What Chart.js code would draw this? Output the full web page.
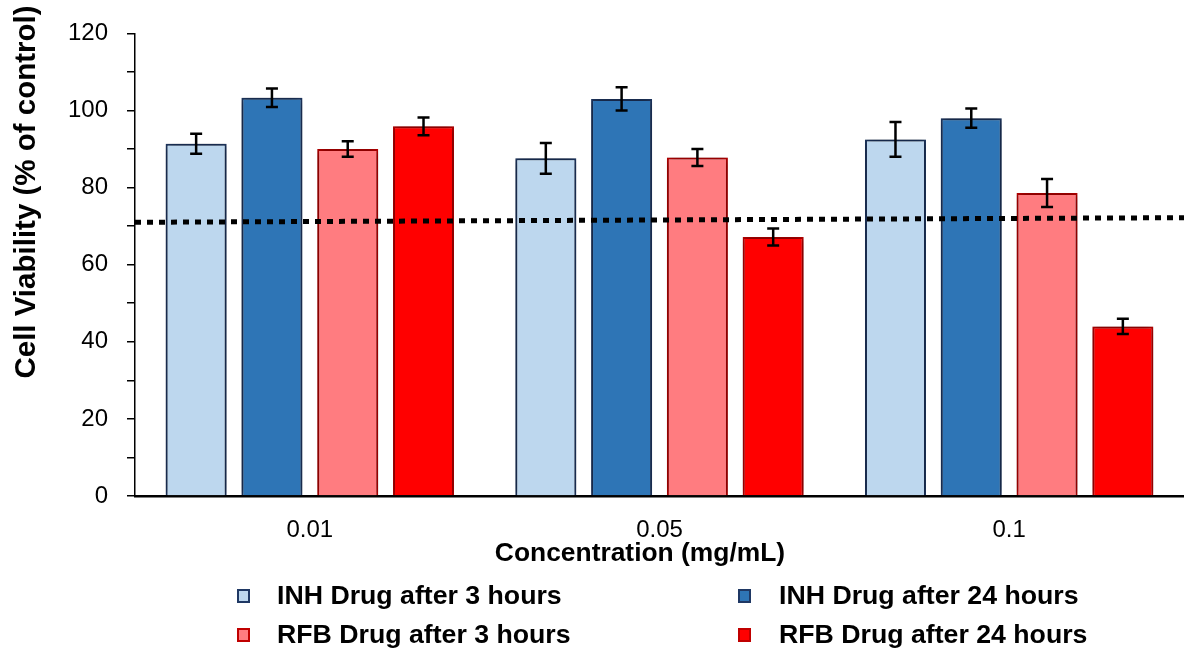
<!DOCTYPE html>
<html>
<head>
<meta charset="utf-8">
<script src="https://cdn.jsdelivr.net/npm/chart.js@4/dist/chart.umd.min.js"></script>
<style>
  html, body { margin: 0; padding: 0; background: #fff; }
  #wrap { width: 1184px; height: 651px; position: relative; }
</style>
</head>
<body>
<div id="wrap"><canvas id="c" width="1184" height="651"></canvas></div>
<script>
// ---- data ----
const categories = ['0.01', '0.05', '0.1'];
const seriesLabels = ['INH Drug after 3 hours', 'INH Drug after 24 hours', 'RFB Drug after 3 hours', 'RFB Drug after 24 hours'];
const inh3 = [91.4, 87.6, 92.5];
const inh3Err = [2.6, 4.0, 4.5];
const inh24 = [103.3, 103.0, 98.0];
const inh24Err = [2.4, 3.0, 2.5];
const rfb3 = [90.0, 87.8, 78.6];
const rfb3Err = [2.0, 2.2, 3.6];
const rfb24 = [95.9, 67.2, 44.0];
const rfb24Err = [2.3, 2.2, 2.0];
// dotted reference line: value at left edge and at right edge of the plot
const thresholdY = [71.0, 72.2];
const yTickLabels = [0, 20, 40, 60, 80, 100, 120];
const xTitle = 'Concentration (mg/mL)';
const yTitle = 'Cell Viability (% of control)';

// ---- styles ----
const fills = ['#BDD7EE', '#2E75B6', '#FF7C80', '#FF0000'];
const borders = ['#1F3864', '#1F3864', '#C00000', '#C00000'];
const values = [inh3, inh24, rfb3, rfb24];
const errs = [inh3Err, inh24Err, rfb3Err, rfb24Err];

const FONT = "'Liberation Sans', Arial, Helvetica, sans-serif";
Chart.defaults.font.family = FONT;
Chart.defaults.color = '#000';

const barDatasets = seriesLabels.map((lab, i) => ({
  label: lab,
  data: values[i],
  errors: errs[i],
  backgroundColor: fills[i],
  borderColor: borders[i],
  borderWidth: 2,
  categoryPercentage: 0.867,
  barPercentage: 0.805
}));

const shadowPlugin = {
  id: 'barShadow',
  beforeDatasetDraw(chart) {
    const ctx = chart.ctx;
    ctx.save();
    ctx.shadowColor = 'rgba(0,0,0,0.6)';
    ctx.shadowBlur = 8;
    ctx.shadowOffsetX = 0;
    ctx.shadowOffsetY = 0;
  },
  afterDatasetDraw(chart) {
    chart.ctx.restore();
  }
};

const overlayPlugin = {
  id: 'overlay',
  afterDatasetsDraw(chart) {
    const ctx = chart.ctx;
    const yScale = chart.scales.y;
    const area = chart.chartArea;
    // dotted reference line
    ctx.save();
    ctx.strokeStyle = '#000';
    ctx.lineWidth = 5;
    ctx.setLineDash([6, 6]);
    ctx.lineCap = 'butt';
    ctx.beginPath();
    ctx.moveTo(area.left, yScale.getPixelForValue(thresholdY[0]));
    ctx.lineTo(area.right, yScale.getPixelForValue(thresholdY[1]));
    ctx.stroke();
    ctx.restore();
    // error bars
    ctx.save();
    ctx.strokeStyle = '#000';
    ctx.lineWidth = 2.5;
    chart.data.datasets.forEach((ds, di) => {
      const meta = chart.getDatasetMeta(di);
      meta.data.forEach((el, i) => {
        const v = ds.data[i], e = ds.errors[i];
        const x = el.x;
        const yt = yScale.getPixelForValue(v + e);
        const yb = yScale.getPixelForValue(v - e);
        const hw = 6;
        ctx.beginPath();
        ctx.moveTo(x, yt); ctx.lineTo(x, yb);
        ctx.moveTo(x - hw, yt); ctx.lineTo(x + hw, yt);
        ctx.moveTo(x - hw, yb); ctx.lineTo(x + hw, yb);
        ctx.stroke();
      });
    });
    ctx.restore();
  }
};

const textPlugin = {
  id: 'extraText',
  afterDraw(chart) {
    const ctx = chart.ctx;
    // y axis title
    ctx.save();
    ctx.fillStyle = '#000';
    ctx.font = 'bold 29.5px ' + FONT;
    ctx.translate(27, 192);
    ctx.rotate(-Math.PI / 2);
    ctx.textAlign = 'center';
    ctx.textBaseline = 'middle';
    ctx.fillText(yTitle, 0, 0);
    ctx.restore();
    // x axis title
    ctx.save();
    ctx.fillStyle = '#000';
    ctx.font = 'bold 26.4px ' + FONT;
    ctx.textAlign = 'center';
    ctx.textBaseline = 'middle';
    ctx.fillText(xTitle, 640, 554);
    ctx.restore();
    // legend (2 columns)
    const colBox = [237, 738];
    const colText = [277, 779];
    const rowY = [596, 635];
    ctx.save();
    ctx.font = 'bold 26.7px ' + FONT;
    ctx.textBaseline = 'middle';
    ctx.textAlign = 'left';
    chart.data.datasets.forEach((ds, i) => {
      const col = i % 2, row = Math.floor(i / 2);
      const bx = colBox[col], by = rowY[row] - 7;
      ctx.fillStyle = ds.backgroundColor;
      ctx.fillRect(bx, by, 13, 14);
      ctx.strokeStyle = ds.borderColor;
      ctx.lineWidth = 2;
      ctx.strokeRect(bx + 1, by + 1, 11, 12);
      ctx.fillStyle = '#000';
      ctx.fillText(ds.label, colText[col], rowY[row] + 1);
    });
    ctx.restore();
  }
};

new Chart(document.getElementById('c'), {
  type: 'bar',
  data: {
    labels: categories,
    datasets: barDatasets
  },
  options: {
    responsive: false,
    animation: false,
    layout: { padding: { top: 30, left: 0, right: 0, bottom: 82 } },
    plugins: {
      legend: { display: false },
      tooltip: { enabled: false }
    },
    scales: {
      x: {
        grid: { display: true, drawOnChartArea: false, drawTicks: false },
        border: { display: true, color: '#000', width: 2.5 },
        ticks: { font: { size: 24 }, color: '#000', padding: 20 },
        title: { display: false },
        afterFit(scale) {
          scale.height = 73;
          scale.paddingLeft = 0;
          scale.paddingRight = 0;
        }
      },
      y: {
        min: 0, max: 120,
        grid: { drawOnChartArea: false, drawTicks: true, tickLength: 8, color: '#000', lineWidth: 1.5 },
        border: { display: true, color: '#000', width: 1.5 },
        ticks: {
          stepSize: 10,
          font: { size: 24 },
          color: '#000',
          padding: 19,
          callback: (v) => yTickLabels.includes(v) ? String(v) : ''
        },
        afterFit(scale) { scale.width = 135; }
      }
    }
  },
  plugins: [shadowPlugin, overlayPlugin, textPlugin]
});
</script>
</body>
</html>
